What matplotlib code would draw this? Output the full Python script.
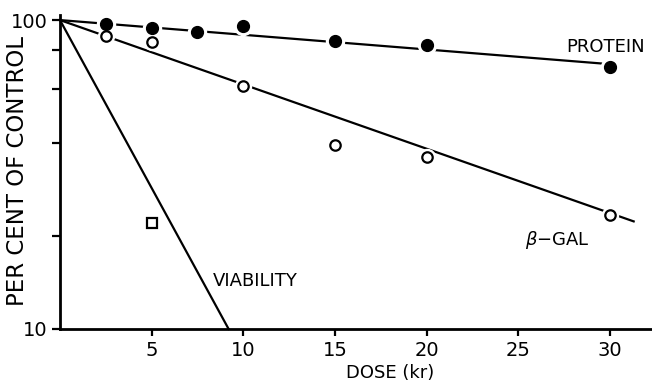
import matplotlib.pyplot as plt
import numpy as np

# data
protein_dose = [2.5, 5, 7.5, 10, 15, 20, 30]
protein_pct = [97, 94, 91.5, 95.5, 85.5, 83, 70.5]
protein_fit_dose = [0, 30]
protein_fit_pct = [100, 72]

bgal_dose = [2.5, 5, 10, 15, 20, 30]
bgal_pct = [89, 85, 61, 39.5, 36, 23.4]
bgal_fit_dose = [0, 31.3]
bgal_fit_pct = [100, 22.3]

viab_fit_dose = [0, 9.2]
viab_fit_pct = [100, 10]
viab_dose = [5]
viab_pct = [22]

plt.rcParams['font.family'] = ['DejaVu Sans']

fig = plt.figure(figsize=(6.52, 3.85), dpi=100)
ax = fig.add_axes([0.092, 0.1455, 0.908, 0.816])

# fitted lines
ax.plot(protein_fit_dose, protein_fit_pct, color='black', lw=1.6, zorder=2)
ax.plot(bgal_fit_dose, bgal_fit_pct, color='black', lw=1.6, zorder=2)
ax.plot(viab_fit_dose, viab_fit_pct, color='black', lw=1.6, zorder=2, clip_on=False)

# white halos to break the lines around the points
ax.plot(protein_dose, protein_pct, 'o', ms=13, color='white', zorder=3)
ax.plot(bgal_dose, bgal_pct, 'o', ms=11.5, color='white', zorder=3)

ax.plot(protein_dose, protein_pct, 'o', ms=8.5, color='black', zorder=4)
ax.plot(bgal_dose, bgal_pct, 'o', ms=7.5, mfc='white', mec='black', mew=1.6, zorder=4)
ax.plot(viab_dose, viab_pct, 's', ms=7.5, mfc='white', mec='black', mew=1.6, zorder=4)

ax.set_yscale('log')
ax.set_xlim(0, 32.3)
ax.set_ylim(10, 104)

ax.spines['top'].set_visible(False)
ax.spines['right'].set_visible(False)
ax.spines['left'].set_linewidth(2)
ax.spines['bottom'].set_linewidth(2)

ax.set_xticks([5, 10, 15, 20, 25, 30])
ax.set_xticklabels(['5', '10', '15', '20', '25', '30'], fontsize=14)
ax.set_yticks([10, 100])
ax.set_yticklabels(['10', '100'], fontsize=14)
ax.set_yticks([20, 40, 60, 80], minor=True)
ax.yaxis.set_minor_formatter(plt.NullFormatter())
ax.tick_params(axis='x', which='major', direction='out', length=5, width=1.6, pad=4)
ax.tick_params(axis='y', which='major', direction='out', length=6, width=1.6, pad=3)
ax.tick_params(axis='y', which='minor', direction='out', length=6, width=1.6)

ax.set_xlabel('DOSE (kr)', fontsize=13, labelpad=0)
ax.xaxis.set_label_coords(18.0 / 32.3, -0.11)
fig.text(0.027, 0.555, 'PER CENT OF CONTROL', fontsize=16.5, rotation=90,
         ha='center', va='center')

ax.text(31.9, 81.8, 'PROTEIN', fontsize=13, ha='right', va='center')
ax.text(28.9, 19.4, r'$\beta$' + '\u2212GAL', fontsize=13, ha='right', va='center')
ax.text(8.35, 14.3, 'VIABILITY', fontsize=13, ha='left', va='center')

fig.savefig('out.png', dpi=100)
